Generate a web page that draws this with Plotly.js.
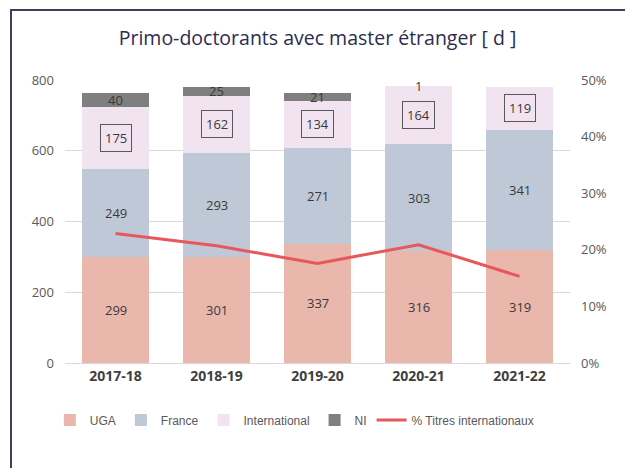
<!DOCTYPE html>
<html>
<head>
<meta charset="utf-8">
<script src="https://cdn.plot.ly/plotly-3.0.1.min.js"></script>
<style>
html,body{margin:0;padding:0;background:#fff;}
#wrap{position:relative;width:625px;height:468px;}
#chart{position:absolute;left:0;top:0;width:625px;height:468px;}
#frame{position:absolute;left:10px;top:9px;width:615px;height:459px;border-left:2px solid #3a3f5c;border-top:2px solid #3a3f5c;pointer-events:none;box-sizing:border-box;}
</style>
</head>
<body>
<div id="wrap"><div id="chart"></div><div id="frame"></div></div>
<script>
const years = ['2017-18','2018-19','2019-20','2020-21','2021-22'];
const uga = [299,301,337,316,319];
const france = [249,293,271,303,341];
const international = [175,162,134,164,119];
const ni = [40,25,21,1,0];
const pctIntl = [0.229,0.207,0.176,0.209,0.153];

const labelFont = {family:'Open Sans, sans-serif', size:13, color:'#3a3a3a'};
const base = {type:'bar', x:years, hoverinfo:'skip'};
const traces = [
  Object.assign({}, base, {name:'UGA', y:uga, marker:{color:'#e9b7ab'}}),
  Object.assign({}, base, {name:'France', y:france, marker:{color:'#bfc8d6'}}),
  Object.assign({}, base, {name:'International', y:international, marker:{color:'#f1e3ef'}}),
  Object.assign({}, base, {name:'NI', y:ni, marker:{color:'#7f7f7f'}}),
  {type:'scatter', mode:'lines', name:'% Titres internationaux', x:years, y:pctIntl, yaxis:'y2',
   line:{color:'#e8575c', width:3}, hoverinfo:'skip'}
];

const annotations = [];
years.forEach((yr,i)=>{
  const series = [uga[i], france[i], international[i], ni[i]];
  let cum = 0;
  series.forEach((v,k)=>{
    const mid = cum + v/2;
    cum += v;
    if (v === 0) return;
    const a = {x:yr, y:mid, xref:'x', yref:'y', text:String(v), showarrow:false, font:labelFont};
    if (k === 2) { a.bordercolor = '#595959'; a.borderwidth = 1; a.borderpad = 4; }
    annotations.push(a);
  });
});

const layout = {
  width:625, height:468,
  margin:{l:65, r:55, t:80, b:105},
  paper_bgcolor:'rgba(0,0,0,0)', plot_bgcolor:'rgba(0,0,0,0)',
  barmode:'stack', bargap:0.34,
  title:{text:'Primo-doctorants avec master étranger [ d ]', x:0.5, xref:'paper', y:0.919, yanchor:'middle', yref:'container',
         font:{family:'Open Sans, sans-serif', size:19.5, color:'#2b2d4f', weight:500}},
  xaxis:{type:'category', tickfont:{family:'Open Sans, sans-serif', size:14, color:'#404040', weight:'bold'},
         showline:true, linecolor:'#d9d9d9', ticks:'', showgrid:false},
  yaxis:{range:[0,800], dtick:200, showgrid:true, gridcolor:'#d9d9d9', zeroline:false,
         tickfont:{family:'Open Sans, sans-serif', size:13, color:'#595959'}, ticklabelstandoff:10},
  yaxis2:{range:[0,0.5], dtick:0.1, tickformat:'.0%', overlaying:'y', side:'right', showgrid:false, zeroline:false,
         tickfont:{family:'Open Sans, sans-serif', size:13, color:'#595959'}, ticklabelstandoff:10},
  showlegend:true,
  legend:{orientation:'h', x:-0.03, xanchor:'left', y:-0.15, yanchor:'top', itemwidth:30,
          font:{family:'Liberation Sans, sans-serif', size:12, color:'#595959'}, traceorder:'normal'},
  annotations:annotations
};

Plotly.newPlot('chart', traces, layout, {displayModeBar:false, staticPlot:true});
</script>
</body>
</html>
